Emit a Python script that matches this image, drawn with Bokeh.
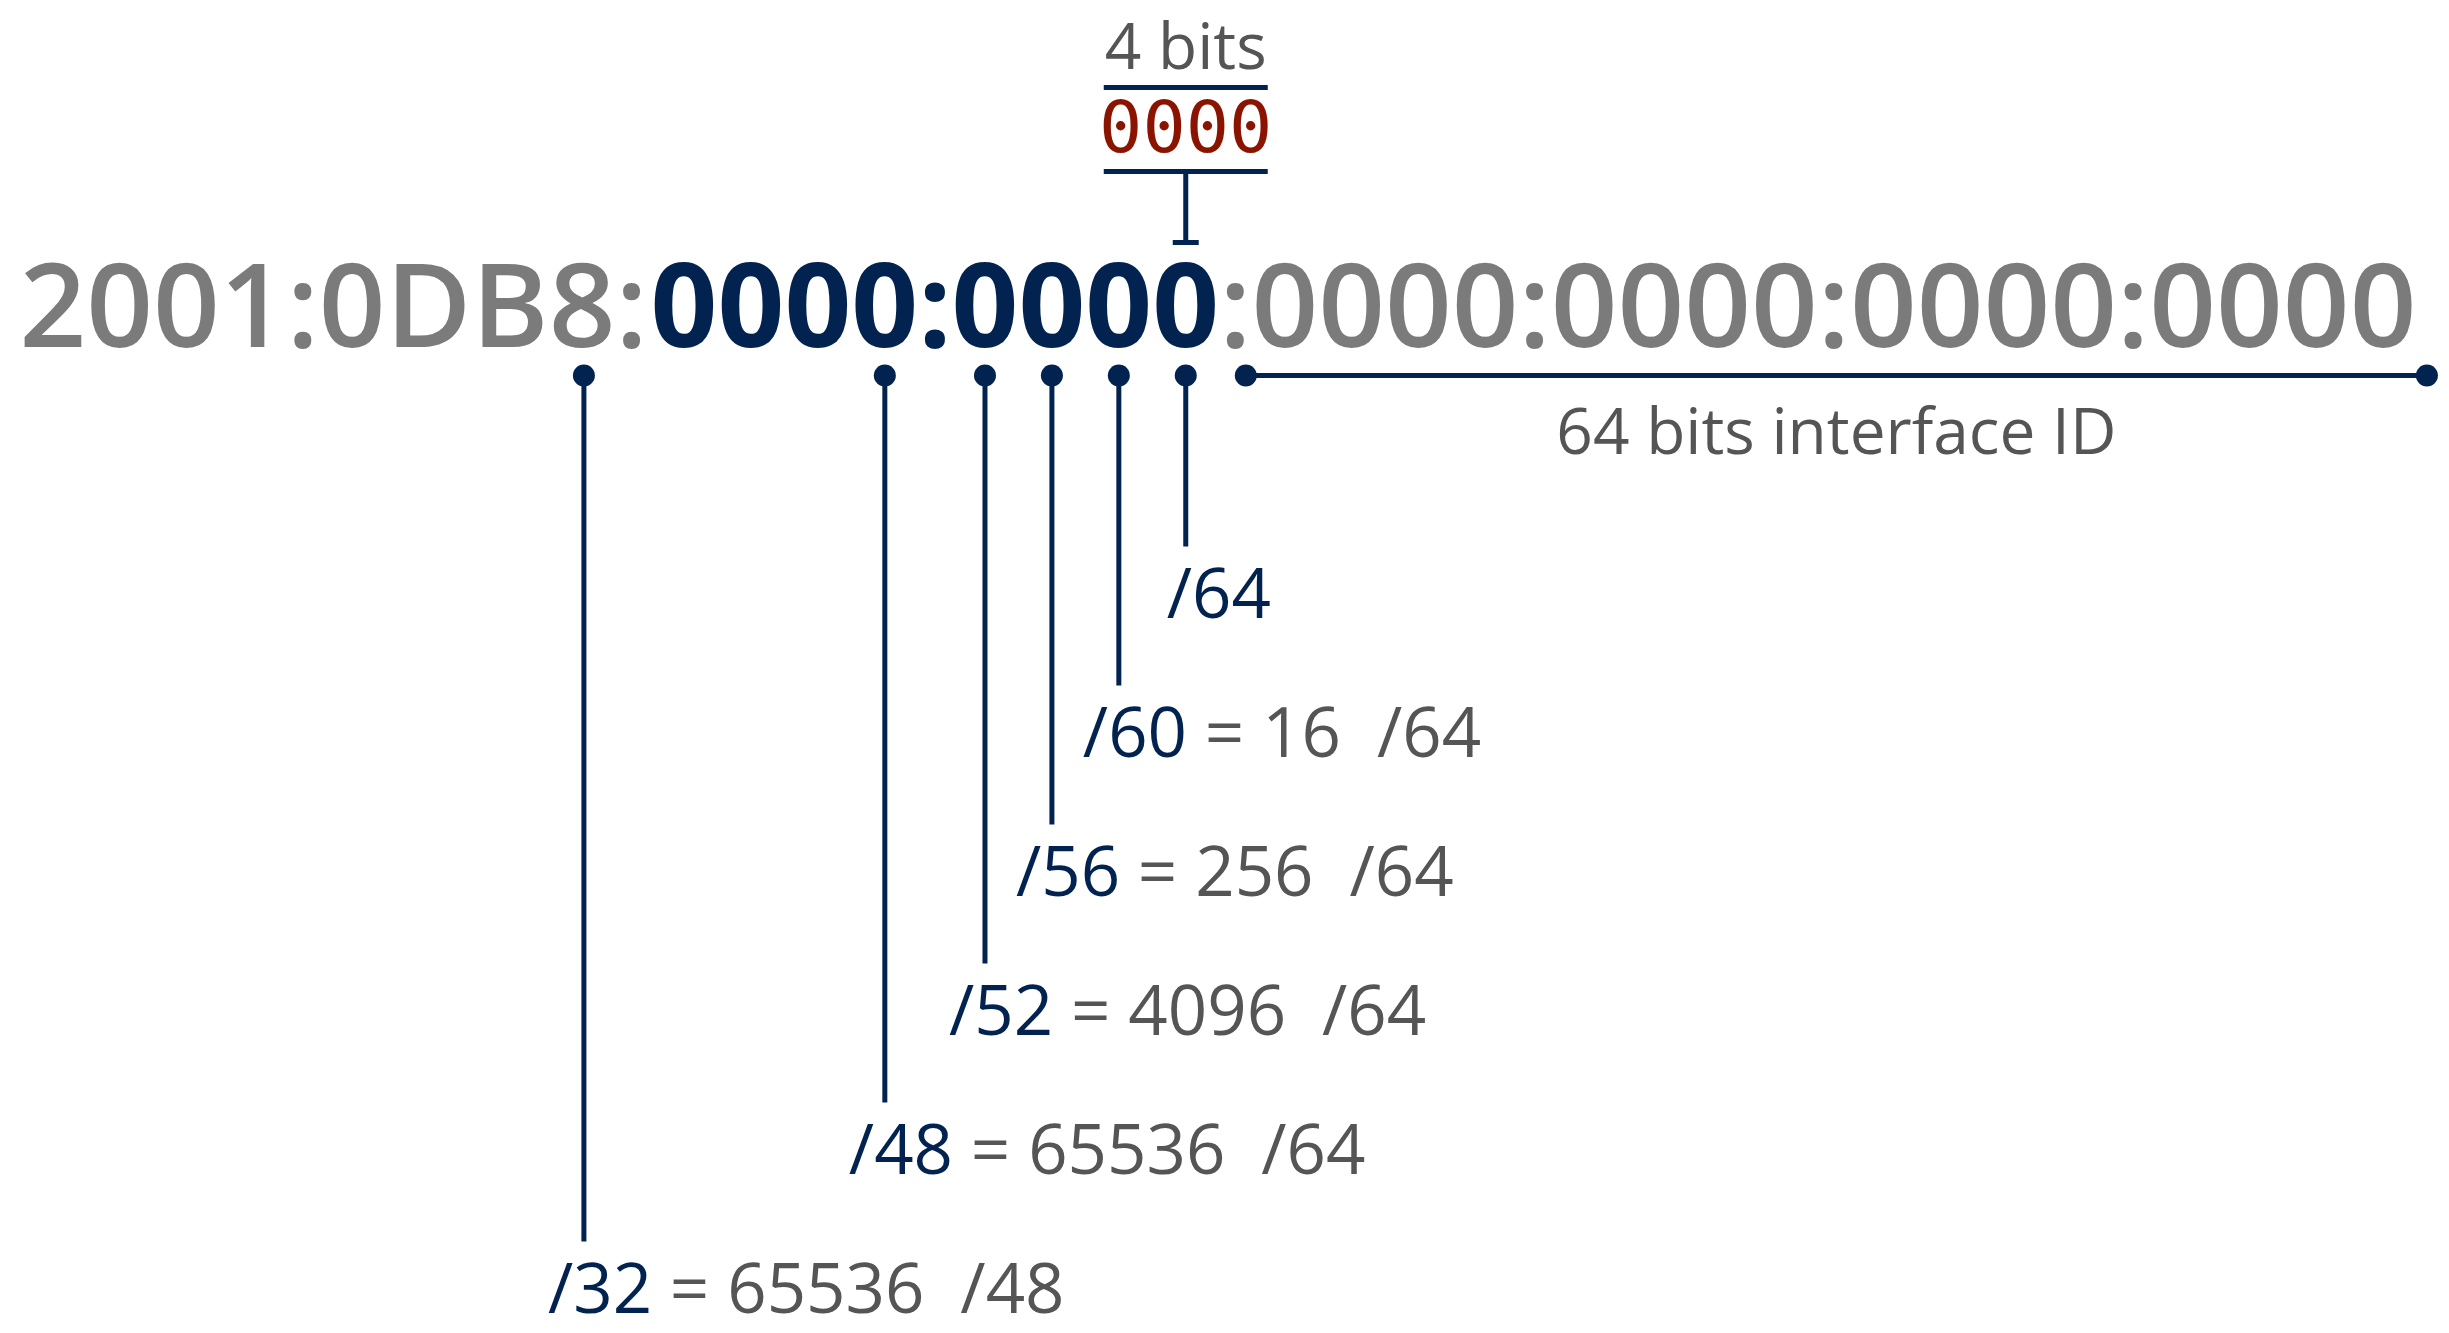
from bokeh.plotting import figure
from bokeh.models import Range1d
from bokeh.core.properties import value
from bokeh.embed import file_html
from bokeh.resources import INLINE

# ---------------- data ----------------
address_groups = ["2001", "0DB8", "0000", "0000", "0000", "0000", "0000", "0000"]
highlight_groups = [2, 3]                 # groups drawn in bold navy
prefix_lengths = [64, 60, 56, 52, 48, 32]
subnet_counts = [None, 16, 256, 4096, 65536, 65536]
subnet_sizes = [None, 64, 64, 64, 64, 48]
nibble_label = "4 bits"
nibble_value = "0000"
interface_label = "64 bits interface ID"

# ---------------- style / layout ----------------
NAVY = "#022350"
ADDR_GRAY = "#7b7b7b"
TXT_GRAY = "#555555"
RED = "#8b1400"
W, H = 2449, 1333

ADDR_PX = 117
ADDR_X0 = 19
ADDR_BASE = 348
ADV_EM = {":": 0.284, "D": 0.727, "B": 0.667}
DIGIT_EM = 0.572
DOT_Y = 375
LBL_PX = 69
ROW0, ROW_STEP = 618, 139
TXT_SHIFT = 0.40   # empirical baseline correction (em)
NIB_TOP = 7        # vertical offset of the nibble call-out

OS_EM = {"/": 745 / 2048, " ": 532 / 2048, "=": 1171 / 2048}


def lbl_width(s, px=LBL_PX):
    return sum(OS_EM.get(ch, 1171 / 2048) for ch in s) * px


def ty(base, px):
    return base - TXT_SHIFT * px


p = figure(width=W, height=H, output_backend="svg",
           toolbar_location=None, x_range=Range1d(0, W),
           y_range=Range1d(H, 0), min_border=0)
p.axis.visible = False
p.grid.visible = False
p.outline_line_color = None
p.background_fill_color = "white"

# ---- address string, char positions ----
full = ":".join(address_groups)
starts, advs = [], []
x = ADDR_X0
for ch in full:
    a = (ADV_EM.get(ch, DIGIT_EM)) * ADDR_PX
    starts.append(x)
    advs.append(a)
    x += a
addr_end = x

first_h = sum(len(g) + 1 for g in address_groups[:highlight_groups[0]])
last_h = sum(len(g) + 1 for g in address_groups[:highlight_groups[-1] + 1]) - 1
seg1 = full[:first_h]
seg2 = full[first_h:last_h]
seg3 = full[last_h:]

ay = ty(ADDR_BASE, ADDR_PX)
p.text(x=[starts[0], starts[last_h]], y=[ay, ay], text=[seg1, seg3],
       text_font=value("Open Sans SemiBold, Open Sans"), text_font_size=f"{ADDR_PX}px",
       text_color=ADDR_GRAY, text_baseline="alphabetic", text_align="left")
p.text(x=[starts[first_h]], y=[ay], text=[seg2],
       text_font=value("Open Sans"), text_font_style="bold", text_font_size=f"{ADDR_PX}px",
       text_color=NAVY, text_baseline="alphabetic", text_align="left")


def digit_center(n):
    idx = (n - 1) + (n - 1) // 4
    return starts[idx] + advs[idx] / 2


# ---- prefix markers ----
dot_x, bottoms, rows = [], [], []
for k, plen in enumerate(prefix_lengths):
    dx = digit_center(plen // 4)
    base = ROW0 + ROW_STEP * k
    dot_x.append(dx)
    rows.append(base)
    bottoms.append(base - 72)

p.segment(x0=dot_x, y0=[DOT_Y] * len(dot_x), x1=dot_x, y1=bottoms,
          line_color=NAVY, line_width=5)
p.scatter(x=dot_x, y=[DOT_Y] * len(dot_x), size=22, fill_color=NAVY, line_color=None)

# ---- labels ----
nav_x, nav_y, nav_t = [], [], []
g_x, g_y, g_t = [], [], []
for plen, cnt, size, dx, base in zip(prefix_lengths, subnet_counts, subnet_sizes, dot_x, rows):
    pre = f"/{plen}"
    yb = ty(base, LBL_PX)
    if cnt is None:
        lx = dx - 19
        nav_x.append(lx); nav_y.append(yb); nav_t.append(pre)
        continue
    lx = dx - 36
    nav_x.append(lx); nav_y.append(yb); nav_t.append(pre)
    eq = f"= {cnt}"
    x_eq = lx + lbl_width(pre) + lbl_width(" ")
    g_x.append(x_eq); g_y.append(yb); g_t.append(eq)
    x_sz = x_eq + lbl_width(eq) + lbl_width("  ")
    g_x.append(x_sz); g_y.append(yb); g_t.append(f"/{size}")

p.text(x=nav_x, y=nav_y, text=nav_t, text_font=value("Open Sans"),
       text_font_size=f"{LBL_PX}px", text_color=NAVY,
       text_baseline="alphabetic", text_align="left")
p.text(x=g_x, y=g_y, text=g_t, text_font=value("Open Sans"),
       text_font_size=f"{LBL_PX}px", text_color=TXT_GRAY,
       text_baseline="alphabetic", text_align="left")

# ---- interface ID bracket ----
colon_idx = last_h
ix0 = starts[colon_idx] + 0.8 * advs[colon_idx]
ix1 = addr_end + 4
p.segment(x0=[ix0], y0=[DOT_Y], x1=[ix1], y1=[DOT_Y], line_color=NAVY, line_width=5)
p.scatter(x=[ix0, ix1], y=[DOT_Y, DOT_Y], size=22, fill_color=NAVY, line_color=None)
p.text(x=[(ix0 + ix1) / 2], y=[ty(455, 64)], text=[interface_label], text_font=value("Open Sans"),
       text_font_size="64px", text_color=TXT_GRAY, text_baseline="alphabetic",
       text_align="center")

# ---- nibble callout ----
xc = dot_x[0]
hw = 82
y_top, y_bot = 80 + NIB_TOP, 164 + NIB_TOP
p.segment(x0=[xc - hw, xc - hw, xc, xc - 13], y0=[y_top, y_bot, y_bot, 242],
          x1=[xc + hw, xc + hw, xc, xc + 13], y1=[y_top, y_bot, 242, 242],
          line_color=NAVY, line_width=5)
p.text(x=[xc], y=[ty(63 + NIB_TOP, 64)], text=[nibble_label], text_font=value("Open Sans"),
       text_font_size="64px", text_color=TXT_GRAY, text_baseline="alphabetic",
       text_align="center")
p.text(x=[xc], y=[ty(147 + NIB_TOP, 72)], text=[nibble_value], text_font=value("DejaVu Sans Mono"),
       text_font_size="72px", text_color=RED, text_baseline="alphabetic",
       text_align="center")

open("out.html", "w").write(file_html(p, INLINE))
